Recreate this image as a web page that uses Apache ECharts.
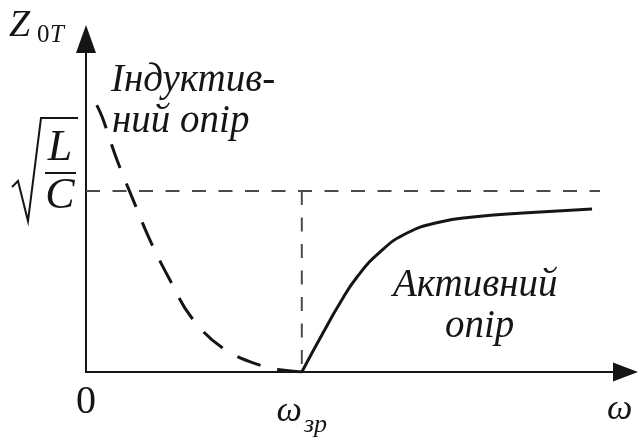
<!DOCTYPE html>
<html>
<head>
<meta charset="utf-8">
<script src="https://cdn.jsdelivr.net/npm/echarts@6/dist/echarts.min.js"></script>
<style>html,body{margin:0;padding:0;background:#fff}</style>
</head>
<body>
<div id="chart" style="width:640px;height:439px"></div>
<script>
// ω is measured in units of the resonance frequency ω_зр, Z_0T in units of sqrt(L/C)
const omegaMax = 2.5;
const zMax = 1.84;

// inductive branch (dashed), ω < ω_зр
const inductiveOmega = [0.050, 0.076, 0.142, 0.215, 0.297, 0.389, 0.489, 0.637, 0.823, 0.908, 1.000];
const inductiveZ     = [1.475, 1.406, 1.177, 0.961, 0.727, 0.508, 0.301, 0.130, 0.030, 0.011, 0.000];

// active branch (solid), ω > ω_зр
const activeOmega = [1.000, 1.098, 1.177, 1.256, 1.362, 1.488, 1.641, 1.793, 2.025, 2.345];
const activeZ     = [0.000, 0.215, 0.381, 0.525, 0.663, 0.768, 0.829, 0.856, 0.878, 0.901];

// guide lines: the sqrt(L/C) level and the drop line at ω_зр
const levelOmega = [0, 2.382];
const levelZ     = [1, 1];
const dropOmega  = [1, 1];
const dropZ      = [1, 0];

// ω-axis tick labels
const xTickValues = [0, 1];
const xTickLabels = ['{n|0}', '{w|ω}{s|зр}'];

const serif = 'Liberation Serif';
const ink = '#151515';

function pairs(xs, ys) {
  return xs.map((x, i) => [x, ys[i]]);
}

function caption(text, x, y, size, italic, align) {
  return {
    type: 'text', x: x, y: y,
    style: {
      text: text,
      fontFamily: serif,
      fontSize: size,
      fontStyle: italic ? 'italic' : 'normal',
      fill: ink,
      textAlign: align || 'left',
      textVerticalAlign: 'middle'
    }
  };
}

const chart = echarts.init(document.getElementById('chart'), null, { renderer: 'canvas' });

chart.setOption({
  animation: false,
  textStyle: { fontFamily: serif },
  grid: { left: 86, right: 14.5, top: 39, bottom: 67 },
  xAxis: {
    type: 'value',
    min: 0,
    max: omegaMax,
    interval: 1,
    splitLine: { show: false },
    axisTick: { show: false },
    axisLine: {
      show: true,
      symbol: ['none', 'triangle'],
      symbolSize: [19, 25],
      lineStyle: { color: ink, width: 2 }
    },
    axisLabel: {
      show: true,
      margin: 10,
      showMaxLabel: false,
      formatter: function (v) {
        const i = xTickValues.indexOf(v);
        return i >= 0 ? xTickLabels[i] : '';
      },
      rich: {
        n: { fontFamily: serif, fontSize: 40, color: ink, lineHeight: 40 },
        w: { fontFamily: serif, fontStyle: 'italic', fontSize: 36, color: ink, lineHeight: 36, verticalAlign: 'top', padding: [12, 0, 0, 0] },
        s: { fontFamily: serif, fontStyle: 'italic', fontSize: 26, color: ink, lineHeight: 26, verticalAlign: 'top', padding: [30, 0, 0, 2] }
      }
    }
  },
  yAxis: {
    type: 'value',
    min: 0,
    max: zMax,
    splitLine: { show: false },
    axisTick: { show: false },
    axisLabel: { show: false },
    axisLine: {
      show: true,
      symbol: ['none', 'triangle'],
      symbolSize: [20, 28],
      lineStyle: { color: ink, width: 2 }
    }
  },
  series: [
    {
      type: 'line',
      data: pairs(levelOmega, levelZ),
      showSymbol: false,
      lineStyle: { color: '#4a4a4a', width: 2, type: [14, 12.5] },
      z: 2
    },
    {
      type: 'line',
      data: pairs(dropOmega, dropZ),
      showSymbol: false,
      lineStyle: { color: '#4a4a4a', width: 2, type: [14, 12.5] },
      z: 2
    },
    {
      type: 'line',
      data: pairs(inductiveOmega, inductiveZ),
      showSymbol: false,
      smooth: 0.4,
      lineStyle: { color: ink, width: 3, type: [25, 17] },
      z: 3
    },
    {
      type: 'line',
      data: pairs(activeOmega, activeZ),
      showSymbol: false,
      smooth: 0.5,
      lineStyle: { color: ink, width: 3 },
      z: 3
    }
  ],
  graphic: [
    // axis title Z_0T
    caption('Z', 9, 26, 38, true),
    caption('0', 37, 35, 25, false),
    caption('T', 50, 35, 25, true),
    // axis title ω
    caption('ω', 607, 410, 36, true),
    // level label sqrt(L/C)
    { type: 'polyline', shape: { points: [[12, 187], [18, 181], [28, 221], [41, 118], [78, 118]] }, style: { stroke: ink, lineWidth: 2, fill: null } },
    { type: 'line', shape: { x1: 45, y1: 173, x2: 76, y2: 173 }, style: { stroke: ink, lineWidth: 2 } },
    caption('L', 60, 148, 44, true, 'center'),
    caption('C', 60, 196, 44, true, 'center'),
    // branch captions
    caption('Індуктив-', 111, 81, 39, true),
    caption('ний опір', 112, 122, 39, true),
    caption('Активний', 393, 286, 39, true),
    caption('опір', 445, 327, 39, true)
  ]
});
</script>
</body>
</html>
